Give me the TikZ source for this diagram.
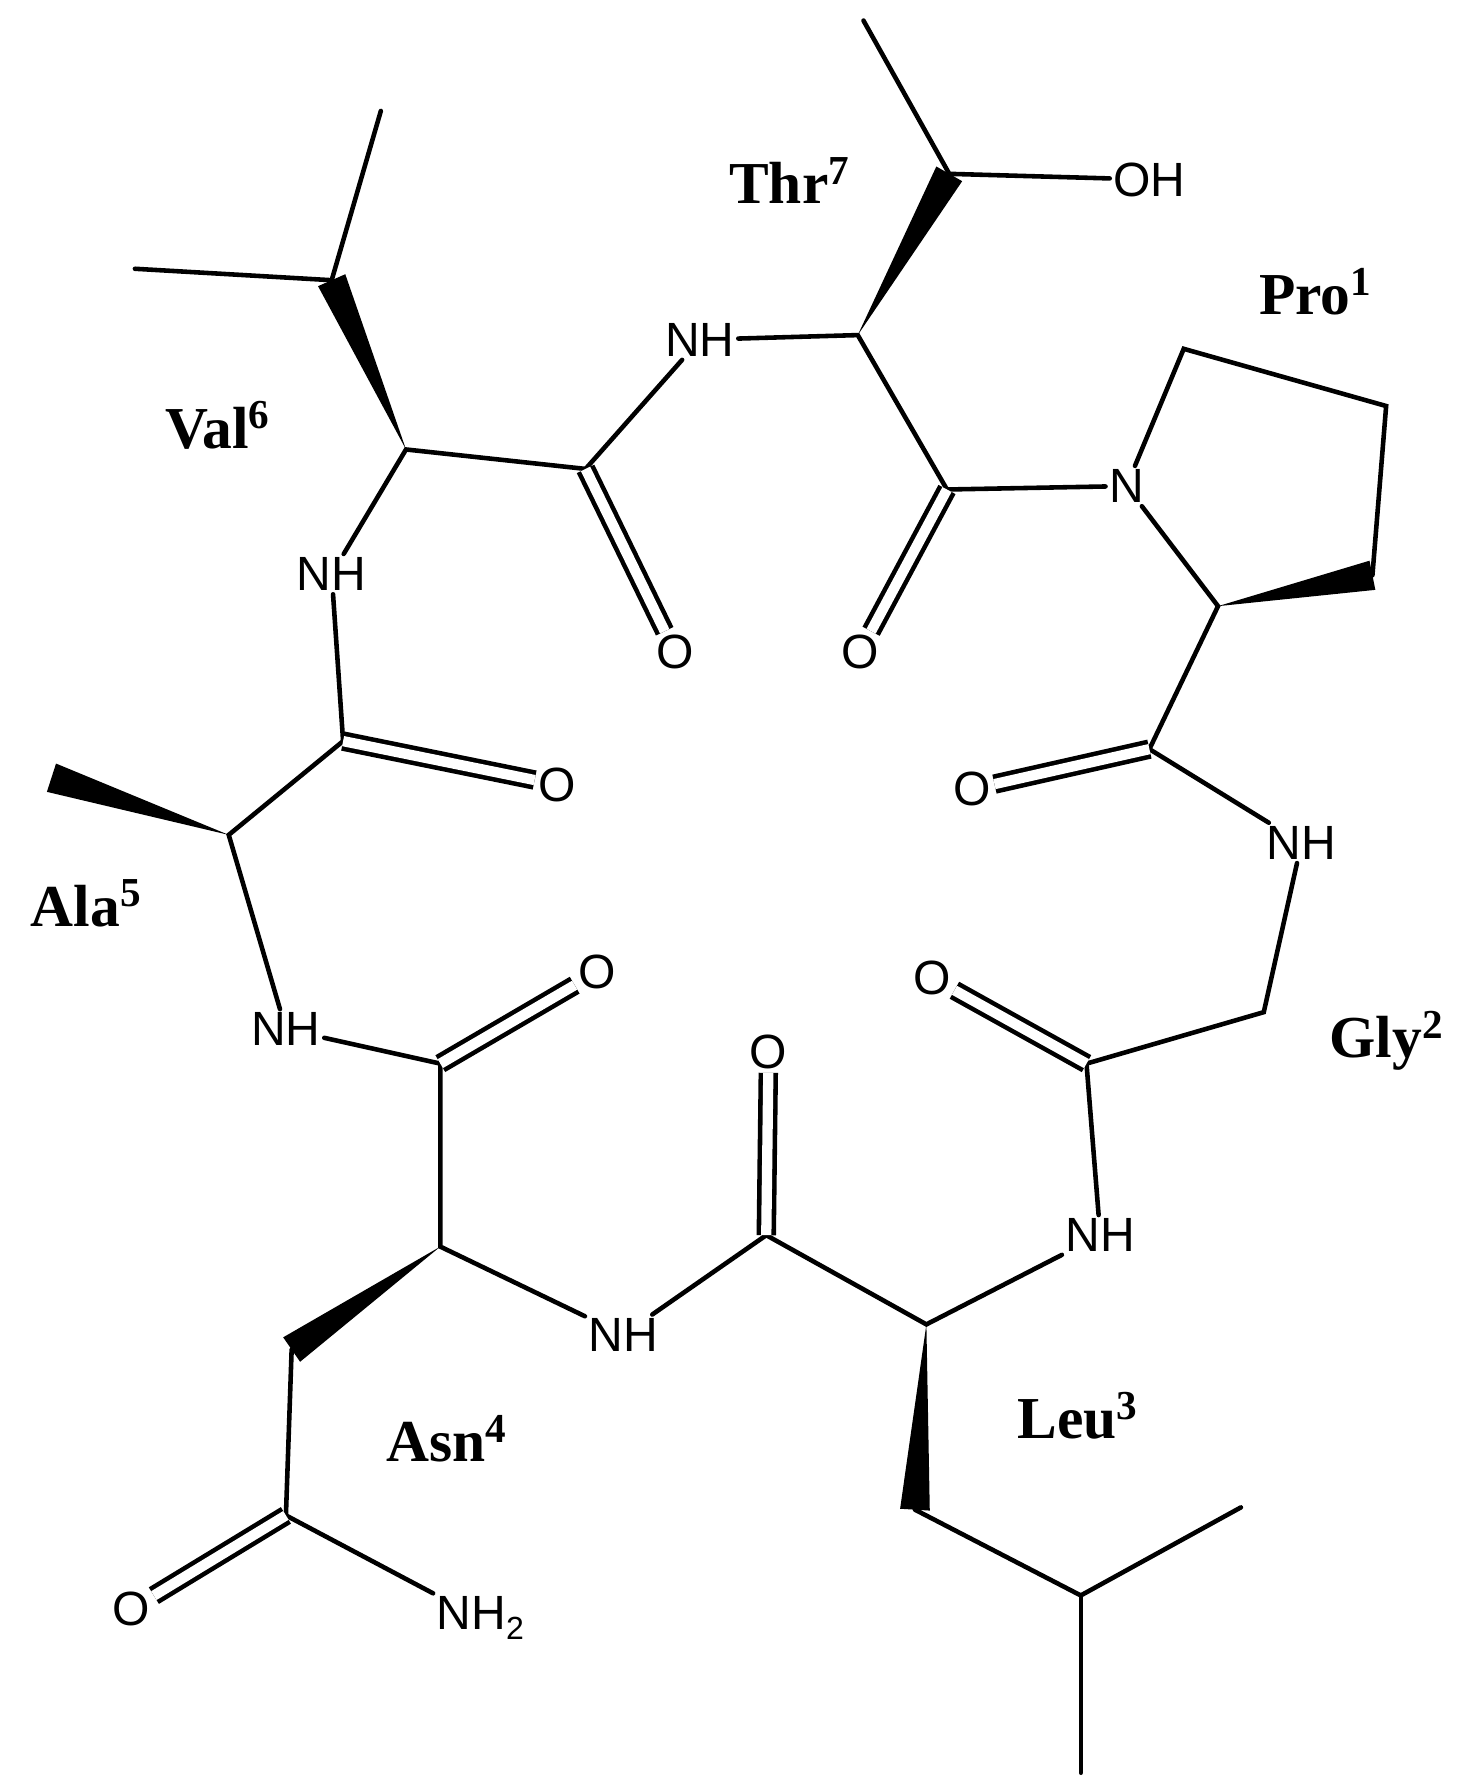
\documentclass[tikz,border=0pt]{standalone}
\usepackage{fontspec}
\setmainfont{Liberation Serif}
\newfontfamily\atomfont{Liberation Sans}
\usetikzlibrary{calc}
\tikzset{
  atom/.style={font=\atomfont\fontsize{42}{42}\selectfont, inner sep=3pt},
  res/.style={font=\bfseries\fontsize{52}{52}\selectfont, inner sep=0pt},
  bond/.style={line width=4pt, line cap=round},
  dbl/.style={line width=4pt, double distance=9pt, double=white},
}
\newcommand{\wedgebond}[2]{\fill ($(#1)$) -- ($(#2)!13pt!90:(#1)$) -- ($(#2)!13pt!-90:(#1)$) -- cycle;}
\newcommand{\supn}[1]{\raisebox{17pt}{\fontsize{36}{36}\selectfont\bfseries #1}}
\begin{document}
\begin{tikzpicture}[x=1pt,y=-1pt]
\useasboundingbox (0,0) rectangle (1280,1566);
% carbons
\coordinate (tme) at (755,18);
\coordinate (tcb) at (830,152);
\coordinate (tca) at (750,293);
\coordinate (tc) at (828,428);
\coordinate (p2) at (1035,305);
\coordinate (p3) at (1212,355);
\coordinate (p4) at (1200,503);
\coordinate (pca) at (1065,530);
\coordinate (pc) at (1005,655);
\coordinate (gca) at (1105,885);
\coordinate (gc) at (950,930);
\coordinate (lca) at (810,1158);
\coordinate (lc) at (670,1080);
\coordinate (lcb) at (800,1320);
\coordinate (lcg) at (945,1395);
\coordinate (lm1) at (1085,1318);
\coordinate (lm2) at (945,1550);
\coordinate (aca) at (385,1090);
\coordinate (ac) at (385,930);
\coordinate (acb) at (255,1180);
\coordinate (acg) at (250,1325);
\coordinate (alca) at (200,730);
\coordinate (alme) at (45,680);
\coordinate (alc) at (300,648);
\coordinate (vca) at (355,393);
\coordinate (vcb) at (290,245);
\coordinate (vm1) at (118,235);
\coordinate (vm2) at (333,97);
\coordinate (vc) at (512,410);
% heteroatoms
\node[atom] (oh) at (1005,157) {OH};
\node[atom] (tn) at (612,297) {NH};
\node[atom] (to) at (752,570) {O};
\node[atom] (pn) at (985,425) {N};
\node[atom] (po) at (850,690) {O};
\node[atom] (gn) at (1138,737) {NH};
\node[atom] (go) at (815,855) {O};
\node[atom] (ln) at (962,1080) {NH};
\node[atom] (lo) at (672,920) {O};
\node[atom] (an) at (545,1167) {NH};
\node[atom] (ao) at (522,850) {O};
\node[atom] (asn) at (250,900) {NH};
\node[atom] (asno) at (115,1407) {O};
\node[atom] (asnn) at (420,1415) {NH\raisebox{-9pt}{\fontsize{28}{28}\selectfont 2}};
\node[atom] (alo) at (487,686) {O};
\node[atom] (vn) at (290,502) {NH};
\node[atom] (vo) at (590,570) {O};
% bonds
\draw[bond] (tme) -- (tcb) -- (oh);
\draw[bond] (tn) -- (tca) -- (tc) -- (pn);
\draw[dbl] (tc) -- (to);
\draw[bond] (pn) -- (p2) -- (p3) -- (p4);
\draw[bond] (pn) -- (pca) -- (pc) -- (gn);
\draw[dbl] (pc) -- (po);
\draw[bond] (gn) -- (gca) -- (gc) -- (ln);
\draw[dbl] (gc) -- (go);
\draw[bond] (ln) -- (lca) -- (lc) -- (an);
\draw[dbl] (lc) -- (lo);
\draw[bond] (lcb) -- (lcg) -- (lm1); \draw[bond] (lcg) -- (lm2);
\draw[bond] (an) -- (aca) -- (ac) -- (asn);
\draw[dbl] (ac) -- (ao);
\draw[bond] (acb) -- (acg) -- (asnn);
\draw[dbl] (acg) -- (asno);
\draw[bond] (asn) -- (alca) -- (alc) -- (vn);
\draw[dbl] (alc) -- (alo);
\draw[bond] (vn) -- (vca) -- (vc) -- (tn);
\draw[dbl] (vc) -- (vo);
\draw[bond] (vm1) -- (vcb) -- (vm2);
% wedges
\wedgebond{tca}{tcb}
\wedgebond{pca}{p4}
\wedgebond{lca}{lcb}
\wedgebond{aca}{acb}
\wedgebond{alca}{alme}
\wedgebond{vca}{vcb}
% residue labels
\node[res] (thr) at (690,158) {Thr\supn{7}};
\node[res] (pro) at (1150,255) {Pro\supn{1}};
\node[res] (val) at (190,372) {Val\supn{6}};
\node[res] (ala) at (75,790) {Ala\supn{5}};
\node[res] (gly) at (1212,910) {Gly\supn{2}};
\node[res] (asnl) at (390,1258) {Asn\supn{4}};
\node[res] (leu) at (942,1238) {Leu\supn{3}};
\end{tikzpicture}
\end{document}
